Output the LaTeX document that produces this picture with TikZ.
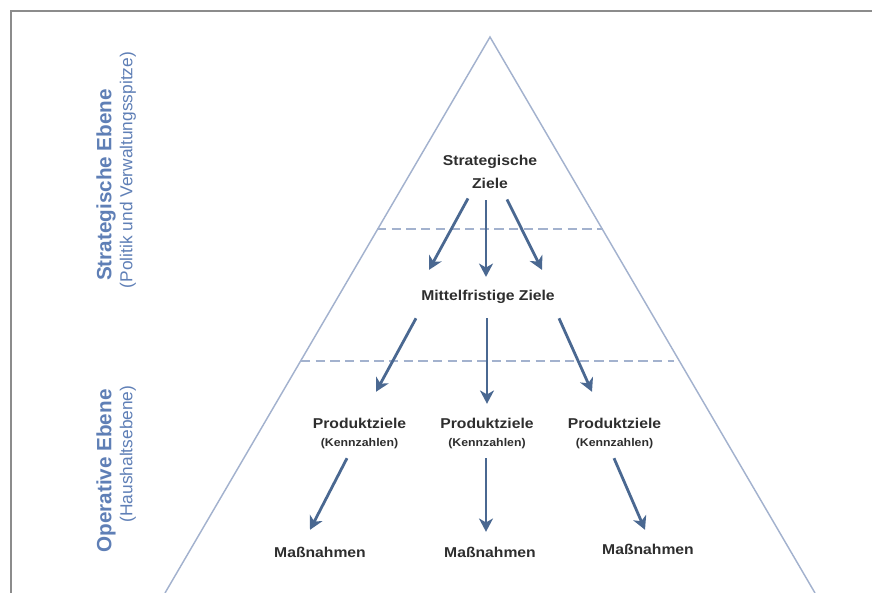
\documentclass[tikz,border=0pt]{standalone}
\usepackage{fontspec}
\setmainfont{Liberation Sans}
\newfontfamily\zielFont[FakeStretch=1.1]{Liberation Sans}
\usetikzlibrary{arrows.meta}
\definecolor{arrowBlue}{HTML}{4A6891}
\definecolor{pyramidLine}{HTML}{A3B2CE}
\definecolor{levelBlue}{HTML}{5F7FB6}
\definecolor{textGray}{HTML}{2E2E2E}
\definecolor{frameGray}{HTML}{8C8C8C}
\tikzstyle{zielText} = [inner sep=0, text=textGray, font=\zielFont\bfseries\fontsize{10.7}{17.2}\selectfont, align=center]
\tikzstyle{kennText} = [inner sep=0, text=textGray, font=\zielFont\bfseries\fontsize{8.4}{10}\selectfont]
\tikzstyle{levelTitle} = [inner sep=0, rotate=90, text=levelBlue, font=\bfseries\fontsize{15.5}{18}\selectfont]
\tikzstyle{levelSub} = [inner sep=0, rotate=90, text=levelBlue, font=\fontsize{13}{15}\selectfont]
\tikzstyle{zielArrow} = [draw=arrowBlue, line width=2.1pt, -{Stealth[length=10pt,width=10.5pt,inset=3pt]}]
\tikzstyle{pyramidEdge} = [draw=pyramidLine, line width=1.1pt]
\tikzstyle{levelBorder} = [draw=pyramidLine, line width=1.1pt, dash pattern=on 7pt off 4pt]

\begin{document}
\begin{tikzpicture}[x=0.75pt, y=-0.75pt]
		\useasboundingbox (0,0) rectangle (872,593);
		\draw[frameGray, line width=1.5pt] (11,593) -- (11,11) -- (872,11);

		% Pyramid and the border between the two levels
		\coordinate (top) at (490,37);
		\coordinate (bottomLeft) at (165,593);
		\coordinate (bottomRight) at (815,593);
		\path [pyramidEdge] (bottomLeft) -- (top) -- (bottomRight);
		\path [levelBorder] (377,229) -- (603,229);
		\path [levelBorder] (301,361) -- (674,361);

		% Level labels
		\node (strategicLevel) [levelTitle] at (106,185) {Strategische Ebene};
		\node (strategicSub) [levelSub] at (128,170) {(Politik und Verwaltungsspitze)};
		\node (operativeLevel) [levelTitle] at (106,471) {Operative Ebene};
		\node (operativeSub) [levelSub] at (128,454) {(Haushaltsebene)};

		% Goals
		\node (strategicGoals) [zielText, anchor=north] at (490,154.5) {Strategische\\Ziele};
		\node (midGoals) [zielText, anchor=base] at (488,300.5) {Mittelfristige Ziele};

		\node (productLeft) [zielText, anchor=base] at (359.5,428) {Produktziele};
		\node (productMid) [zielText, anchor=base] at (487,428) {Produktziele};
		\node (productRight) [zielText, anchor=base] at (614.5,428) {Produktziele};
		\node (figuresLeft) [kennText, anchor=base] at (359.5,446) {(Kennzahlen)};
		\node (figuresMid) [kennText, anchor=base] at (487,446) {(Kennzahlen)};
		\node (figuresRight) [kennText, anchor=base] at (614.5,446) {(Kennzahlen)};

		\node (actionLeft) [zielText, anchor=base] at (320,557) {Maßnahmen};
		\node (actionMid) [zielText, anchor=base] at (490,557) {Maßnahmen};
		\node (actionRight) [zielText, anchor=base] at (648,554) {Maßnahmen};

		\path [zielArrow] ([shift={(-22,10)}]strategicGoals.south) -- ([shift={(-59,-20)}]midGoals.north);
		\path [zielArrow] ([shift={(-4,12)}]strategicGoals.south) -- ([shift={(-2,-13)}]midGoals.north);
		\path [zielArrow] ([shift={(17,11)}]strategicGoals.south) -- ([shift={(54,-20)}]midGoals.north);

		\path [zielArrow] ([shift={(-72,14.5)}]midGoals.south) -- ([shift={(16.5,-25.6)}]productLeft.north);
		\path [zielArrow] ([shift={(-1,14.5)}]midGoals.south) -- ([shift={(0,-13.6)}]productMid.north);
		\path [zielArrow] ([shift={(71,14.5)}]midGoals.south) -- ([shift={(-22.5,-25.6)}]productRight.north);

		\path [zielArrow] ([shift={(-12.5,9.6)}]figuresLeft.south) -- ([shift={(-10,-16.6)}]actionLeft.north);
		\path [zielArrow] ([shift={(-1,9.6)}]figuresMid.south) -- ([shift={(-4,-14.6)}]actionMid.north);
		\path [zielArrow] ([shift={(-0.5,9.6)}]figuresRight.south) -- ([shift={(-3,-13.6)}]actionRight.north);
\end{tikzpicture}
\end{document}
